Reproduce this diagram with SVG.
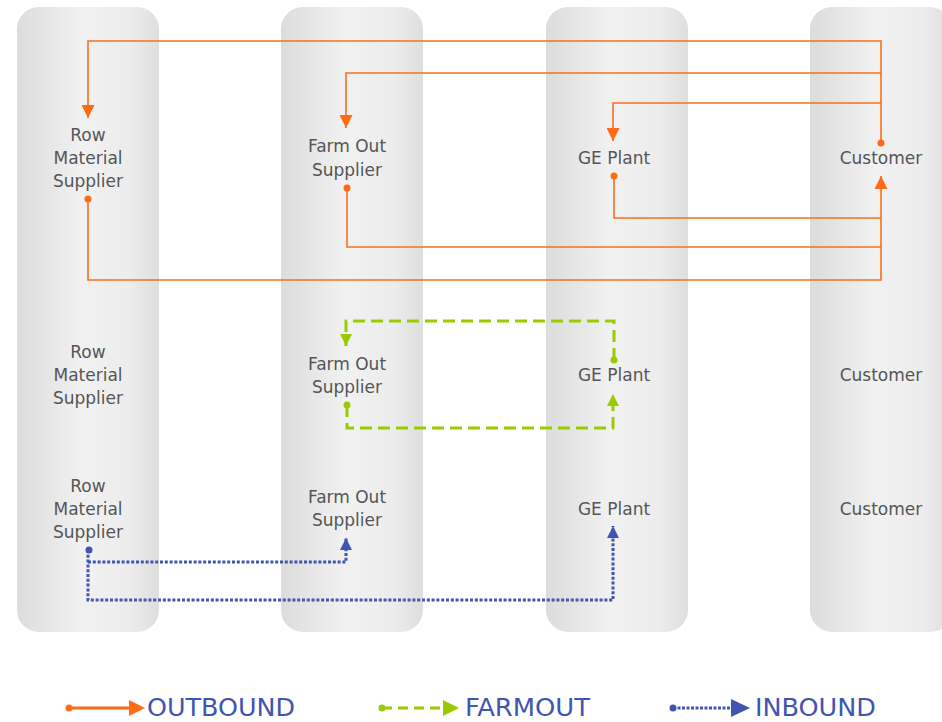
<svg xmlns="http://www.w3.org/2000/svg" width="942" height="722" viewBox="0 0 942 722">
<defs>
<linearGradient id="colg" x1="0" y1="0" x2="1" y2="0">
<stop offset="0" stop-color="#dcdcdc"/>
<stop offset="0.45" stop-color="#f1f1f1"/>
<stop offset="0.8" stop-color="#ececec"/>
<stop offset="1" stop-color="#dedede"/>
</linearGradient>
<marker id="ao" viewBox="0 0 13 13" refX="13" refY="6.5" markerWidth="13" markerHeight="13" markerUnits="userSpaceOnUse" orient="auto"><path d="M0,0 L13,6.5 L0,13 Z" fill="#ff6a13"/></marker>
<marker id="ag" viewBox="0 0 12 12" refX="12" refY="6" markerWidth="12" markerHeight="12" markerUnits="userSpaceOnUse" orient="auto"><path d="M0,0 L12,6 L0,12 Z" fill="#99cc00"/></marker>
<marker id="ab" viewBox="0 0 12 12" refX="12" refY="6" markerWidth="12" markerHeight="12" markerUnits="userSpaceOnUse" orient="auto"><path d="M0,0 L12,6 L0,12 Z" fill="#3f55b0"/></marker>
</defs>
<style>
.col{fill:url(#colg)}
.lbl{font-family:"DejaVu Sans",sans-serif;font-size:17px;fill:#555555;text-anchor:middle}
.out{fill:none;stroke:#fa6e20;stroke-width:1.6}
.farm{fill:none;stroke:#99cc00;stroke-width:3;stroke-dasharray:12,6}
.inb{fill:none;stroke:#3f55b0;stroke-width:3;stroke-dasharray:3,1.8}
.leg{font-family:"DejaVu Sans Condensed","DejaVu Sans",sans-serif;font-size:25px;fill:#3f55b0}
</style>
<rect width="942" height="722" fill="#ffffff"/>
<g id="columns">
<rect class="col" x="17" y="7" width="142" height="625" rx="22"/>
<rect class="col" x="281" y="7" width="142" height="625" rx="22"/>
<rect class="col" x="546" y="7" width="142" height="625" rx="22"/>
<rect class="col" x="810" y="7" width="142" height="625" rx="22"/>
</g>
<g id="connectors">
<path class="out" d="M881,142 V41 H88 V118" marker-end="url(#ao)"/>
<path class="out" d="M881,73 H346 V128" marker-end="url(#ao)"/>
<path class="out" d="M881,103 H613 V141" marker-end="url(#ao)"/>
<path class="out" d="M88,199 V280 H881 V176" marker-end="url(#ao)"/>
<path class="out" d="M347,188 V247 H881"/>
<path class="out" d="M614,176 V218 H881"/>
<circle cx="881" cy="143" r="3.5" fill="#ff6a13"/>
<circle cx="88" cy="199" r="3.5" fill="#ff6a13"/>
<circle cx="347" cy="188" r="3.5" fill="#ff6a13"/>
<circle cx="614" cy="176" r="3.5" fill="#ff6a13"/>
<path class="farm" d="M614,360 V321 H346 V346" marker-end="url(#ag)"/>
<path class="farm" d="M347,405 V428 H613 V394" marker-end="url(#ag)"/>
<circle cx="614" cy="360" r="3.5" fill="#99cc00"/>
<circle cx="347" cy="405" r="3.5" fill="#99cc00"/>
<path class="inb" d="M88,550 V600 H613 V526" marker-end="url(#ab)"/>
<path class="inb" d="M88,562 H346 V538" marker-end="url(#ab)"/>
<circle cx="89" cy="550" r="3.5" fill="#3f55b0"/>
</g>
<g id="n-row1"><text class="lbl" x="88" y="141">Row</text><text class="lbl" x="88" y="164">Material</text><text class="lbl" x="88" y="187">Supplier</text></g>
<g id="n-farm1"><text class="lbl" x="347" y="152">Farm Out</text><text class="lbl" x="347" y="176">Supplier</text></g>
<g id="n-ge1"><text class="lbl" x="614" y="164">GE Plant</text></g>
<g id="n-cust1"><text class="lbl" x="881" y="164">Customer</text></g>
<g id="n-row2"><text class="lbl" x="88" y="358">Row</text><text class="lbl" x="88" y="381">Material</text><text class="lbl" x="88" y="404">Supplier</text></g>
<g id="n-farm2"><text class="lbl" x="347" y="370">Farm Out</text><text class="lbl" x="347" y="393">Supplier</text></g>
<g id="n-ge2"><text class="lbl" x="614" y="381">GE Plant</text></g>
<g id="n-cust2"><text class="lbl" x="881" y="381">Customer</text></g>
<g id="n-row3"><text class="lbl" x="88" y="492">Row</text><text class="lbl" x="88" y="515">Material</text><text class="lbl" x="88" y="538">Supplier</text></g>
<g id="n-farm3"><text class="lbl" x="347" y="503">Farm Out</text><text class="lbl" x="347" y="526">Supplier</text></g>
<g id="n-ge3"><text class="lbl" x="614" y="515">GE Plant</text></g>
<g id="n-cust3"><text class="lbl" x="881" y="515">Customer</text></g>
<g id="legend">
<path d="M69,708 H130" stroke="#ff6a13" stroke-width="3" fill="none"/>
<circle cx="69" cy="708" r="3.5" fill="#ff6a13"/>
<path d="M129,700 L145,708 L129,716 Z" fill="#ff6a13"/>
<text class="leg" x="147" y="716" textLength="148" lengthAdjust="spacingAndGlyphs">OUTBOUND</text>
<path d="M382,708 H443" stroke="#99cc00" stroke-width="3" stroke-dasharray="10,6" fill="none"/>
<circle cx="382" cy="708" r="3.5" fill="#99cc00"/>
<path d="M443,700 L459,708 L443,716 Z" fill="#99cc00"/>
<text class="leg" x="465" y="716" textLength="125" lengthAdjust="spacingAndGlyphs">FARMOUT</text>
<path d="M673,708 H731" stroke="#3f55b0" stroke-width="3" stroke-dasharray="3,1.5" fill="none"/>
<circle cx="673" cy="708" r="3.5" fill="#3f55b0"/>
<path d="M731,699 L750,708 L731,717 Z" fill="#3f55b0"/>
<text class="leg" x="755" y="716" textLength="121" lengthAdjust="spacingAndGlyphs">INBOUND</text>
</g>
</svg>
